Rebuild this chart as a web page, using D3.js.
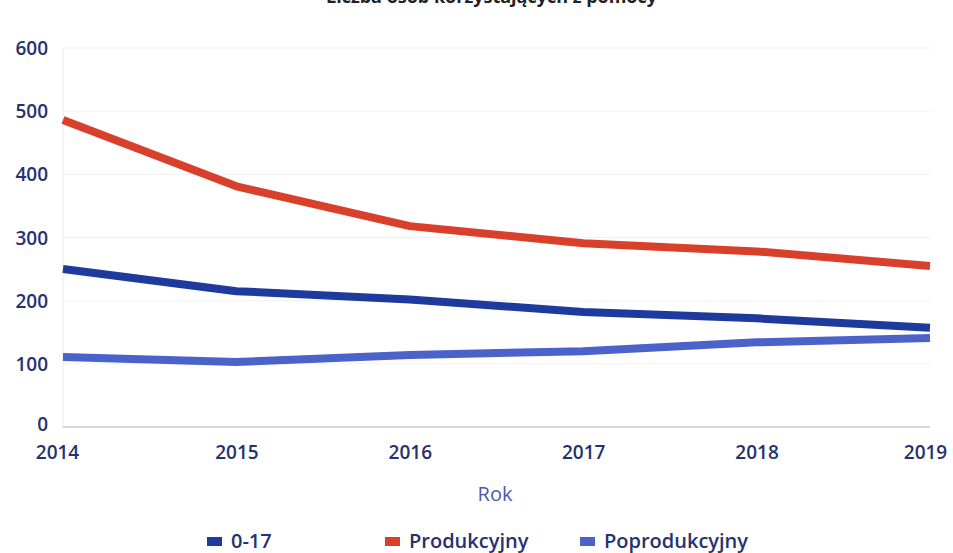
<!DOCTYPE html>
<html><head><meta charset="utf-8">
<script src="https://cdn.jsdelivr.net/npm/d3@7"></script>
<style>body{margin:0;background:#fff}svg{display:block}</style>
</head><body><svg id="c" width="953" height="553"></svg>
<script>
const years = [2014, 2015, 2016, 2017, 2018, 2019];
const yTicks = [0, 100, 200, 300, 400, 500, 600];
const seriesNames = ["0-17", "Produkcyjny", "Poprodukcyjny"];
const seriesColors = ["#1e3a9c", "#d9402c", "#4a62c9"];
const values017 = [250, 215, 202, 182, 172, 157];
const valuesProd = [486, 381, 318, 291, 278, 255];
const valuesPoprod = [111, 103, 114, 120, 134, 141];
const allValues = [values017, valuesProd, valuesPoprod];

const svg = d3.select("#c");
const font = "'Open Sans', 'Noto Sans', sans-serif";
const x = d3.scalePoint().domain(years).range([63, 930]);
const y = d3.scaleLinear().domain([0, 600]).range([427, 48]);

svg.append("text").attr("x", 657).attr("y", 3).attr("text-anchor", "end")
  .attr("font-family", font).attr("font-size", 18).attr("font-weight", "bold")
  .attr("fill", "#222").text("Liczba osób korzystających z pomocy");

// grid
svg.append("g").selectAll("line").data(yTicks.filter(d => d > 0)).join("line")
  .attr("x1", 63).attr("x2", 930).attr("y1", d => y(d)).attr("y2", d => y(d))
  .attr("stroke", "#f1f1f1").attr("stroke-width", 1);
svg.append("line").attr("x1", 63).attr("x2", 63).attr("y1", 48).attr("y2", 427)
  .attr("stroke", "#e8e8e8");

const yAxis = svg.append("g").attr("transform", "translate(63,0)")
  .call(d3.axisLeft(y).tickValues(yTicks).tickSize(0).tickPadding(15));
yAxis.select(".domain").remove();
yAxis.selectAll("text").attr("font-family", font).attr("font-size", 19)
  .attr("font-weight", 600).attr("fill", "#253270").attr("dy", "0.35em");
yAxis.selectAll(".tick").filter(d => d === 0).select("text").attr("dy", "0.2em");

svg.append("line").attr("x1", 63).attr("x2", 930).attr("y1", y(0)).attr("y2", y(0))
  .attr("stroke", "#c3cad8").attr("stroke-width", 1.5);

const xAxis = svg.append("g").attr("transform", "translate(0,427)")
  .call(d3.axisBottom(x).tickSize(0).tickPadding(19));
xAxis.select(".domain").remove();
xAxis.selectAll("text").attr("font-family", font).attr("font-size", 19)
  .attr("font-weight", 600).attr("fill", "#253270")
  .attr("dx", (d, i) => i === 0 ? -6 : (i === years.length - 1 ? -5 : 0));

svg.append("text").attr("x", 495).attr("y", 501).attr("text-anchor", "middle")
  .attr("font-family", font).attr("font-size", 20).attr("fill", "#4d5ba3").text("Rok");

const line = d3.line().x((d, i) => x(years[i])).y(d => y(d));
allValues.forEach((vals, k) => {
  svg.append("path").datum(vals).attr("d", line).attr("fill", "none")
    .attr("stroke", seriesColors[k]).attr("stroke-width", 8)
    .attr("stroke-linejoin", "round");
});

const legendX = [207, 385, 580];
seriesNames.forEach((n, k) => {
  svg.append("rect").attr("x", legendX[k]).attr("y", 537).attr("width", 15).attr("height", 9)
    .attr("fill", seriesColors[k]);
  svg.append("text").attr("x", legendX[k] + 24).attr("y", 548)
    .attr("font-family", font).attr("font-size", 20).attr("font-weight", 600)
    .attr("fill", "#253270").text(n);
});
</script></body></html>
